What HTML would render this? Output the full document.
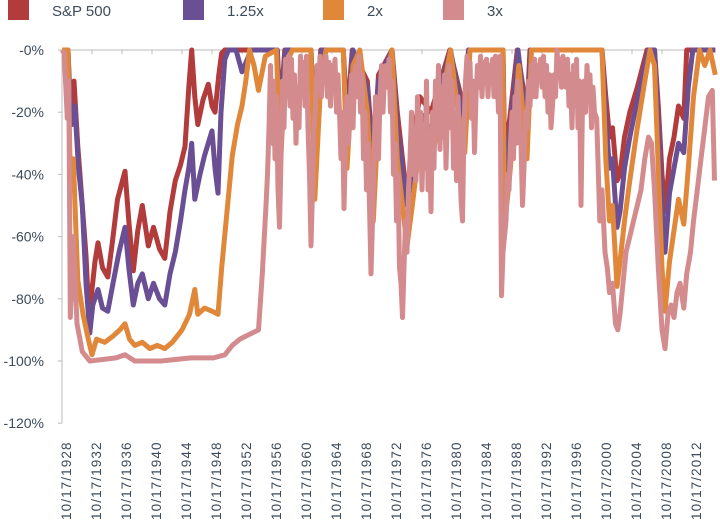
<!DOCTYPE html>
<html><head><meta charset="utf-8"><style>
body{margin:0;background:#fff;width:720px;height:524px;overflow:hidden;font-family:"Liberation Sans",sans-serif}
</style></head><body>
<svg id="c" width="720" height="524" xmlns="http://www.w3.org/2000/svg"></svg>
<script>
const legendLabels=["S&P 500","1.25x","2x","3x"];
const yTicks=[0,-20,-40,-60,-80,-100,-120];
const xTickYears=[1928,1932,1936,1940,1944,1948,1952,1956,1960,1964,1968,1972,1976,1980,1984,1988,1992,1996,2000,2004,2008,2012];
const spx=[[1928.8,0],[1929.6,0],[1929.8,-12],[1930.1,-18],[1930.4,-10],[1930.9,-31],[1931.5,-50],[1932,-66],[1932.4,-86],[1932.8,-77],[1933.2,-68],[1933.6,-62],[1934.2,-70],[1934.9,-73],[1935.5,-62],[1936.2,-48],[1937.2,-39],[1937.7,-55],[1938.3,-71],[1938.9,-58],[1939.5,-50],[1940.3,-63],[1941,-57],[1941.8,-64],[1942.5,-67],[1943.2,-52],[1943.9,-42],[1944.6,-37],[1945.2,-31],[1945.7,-12],[1946.1,0],[1946.5,-15],[1946.9,-24],[1947.6,-16],[1948.3,-11],[1948.8,-18],[1949.2,-20],[1949.7,-8],[1950.1,-1],[1950.5,0],[1957.5,0],[1957.9,-20],[1958.5,0],[1962,0],[1962.5,-28],[1963.3,0],[1966.3,0],[1966.8,-22],[1967.5,0],[1969.5,-10],[1970.3,-36],[1971,-8],[1972.8,0],[1973.5,-20],[1974.8,-48],[1975.5,-30],[1976.5,-15],[1978,-20],[1979,-12],[1980.5,0],[1981.5,-10],[1982.5,-20],[1983,0],[1987.6,0],[1987.8,-33],[1988.5,-22],[1989.5,0],[1990.8,-20],[1991.2,0],[2000.8,0],[2001.3,-15],[2001.8,-28],[2002.2,-25],[2002.8,-42],[2003.2,-40],[2003.8,-28],[2004.5,-20],[2005.5,-12],[2006.8,0],[2007.8,0],[2008.3,-18],[2008.8,-40],[2009.2,-52],[2009.8,-35],[2010.4,-28],[2011,-18],[2011.7,-22],[2012.1,0],[2015.9,0]];
const x125=[[1928.8,0],[1929.6,0],[1929.8,-14],[1930.1,-24],[1930.5,-18],[1931,-38],[1931.5,-50],[1932,-75],[1932.5,-91],[1932.9,-82],[1933.6,-77],[1934.2,-83],[1934.9,-84],[1935.6,-75],[1936.4,-65],[1937.2,-57],[1937.7,-70],[1938.3,-82],[1938.9,-75],[1939.5,-72],[1940.3,-80],[1941,-75],[1941.8,-80],[1942.5,-82],[1943.2,-72],[1943.9,-65],[1944.6,-55],[1945.2,-45],[1945.7,-38],[1946.1,-30],[1946.5,-48],[1947.2,-40],[1947.8,-34],[1948.8,-26],[1949.2,-38],[1949.6,-46],[1950,-20],[1950.5,-3],[1951,0],[1952,0],[1952.8,-7],[1953.5,-3],[1954,0],[1957.5,0],[1957.9,-25],[1958.6,0],[1962,0],[1962.5,-35],[1963.4,0],[1966.3,0],[1966.8,-28],[1967.6,0],[1969.5,-12],[1970.3,-44],[1971,-10],[1972.8,0],[1973.5,-25],[1974.8,-50],[1975.5,-38],[1976.5,-20],[1978,-26],[1979,-15],[1980.6,0],[1981.5,-12],[1982.5,-25],[1983,0],[1987.6,0],[1987.8,-40],[1988.5,-28],[1989.6,0],[1990.8,-25],[1991.3,0],[2000.8,0],[2001.3,-22],[2001.8,-38],[2002.2,-35],[2002.8,-57],[2003.2,-52],[2003.8,-38],[2004.5,-28],[2005.5,-16],[2007,0],[2007.8,0],[2008.3,-24],[2008.8,-50],[2009.2,-65],[2009.8,-46],[2010.4,-38],[2011,-30],[2011.7,-33],[2012.3,-12],[2012.9,0],[2015.9,0]];
const x2=[[1928.8,0],[1929.6,0],[1929.9,-42],[1930.3,-35],[1930.9,-74],[1931.6,-85],[1932.3,-93],[1932.8,-98],[1933.4,-93],[1934.5,-94],[1935.6,-92],[1936.5,-90],[1937.2,-88],[1937.8,-93],[1938.5,-95],[1939.5,-94],[1940.5,-96],[1941.5,-95],[1942.5,-96],[1943.5,-94],[1944.8,-90],[1945.8,-85],[1946.5,-77],[1946.9,-85],[1947.8,-83],[1948.8,-84],[1949.6,-85],[1950.1,-70],[1950.8,-52],[1951.5,-34],[1952.2,-24],[1952.8,-18],[1953.3,-10],[1953.8,0],[1954.4,-5],[1955,-13],[1955.9,-2],[1957.4,0],[1957.9,-38],[1958.6,-5],[1959.5,0],[1962,0],[1962.5,-48],[1963.3,-10],[1964,0],[1966.3,0],[1966.8,-38],[1967.6,-5],[1968.5,0],[1969.5,-20],[1970.3,-55],[1971,-20],[1972.8,0],[1973.5,-35],[1974.8,-63],[1975.5,-50],[1976.5,-30],[1978,-38],[1979,-22],[1980.6,0],[1981.5,-18],[1982.5,-33],[1983.2,0],[1987.6,0],[1987.8,-57],[1988.5,-40],[1989.7,-5],[1990.8,-35],[1991.4,0],[2000.8,0],[2001.3,-35],[2001.8,-55],[2002.2,-50],[2002.8,-76],[2003.2,-68],[2003.8,-55],[2004.5,-42],[2005.5,-25],[2006.5,-10],[2007.2,0],[2007.8,-5],[2008.3,-38],[2008.8,-70],[2009.2,-84],[2009.8,-68],[2010.4,-58],[2011,-48],[2011.7,-56],[2012.3,-38],[2013,-15],[2013.8,0],[2014.5,-5],[2015.2,0],[2015.9,-8]];
const x3Early=[[1928.8,0],[1929.1,-1],[1929.5,-22],[1929.7,-10],[1929.9,-86],[1930.3,-60],[1930.8,-88],[1931.5,-97],[1932.5,-100],[1936,-99],[1937.2,-98],[1938.5,-100],[1942,-100],[1946,-99],[1949,-99],[1950.5,-98],[1951.5,-95],[1952.5,-93],[1953.3,-92],[1955,-90],[1955.5,-72],[1956,-50],[1956.2,-40]];
const x3MidStart=1956.4;
const x3MidStep=0.2;
const x3MidValues=[-25,-5,-30,-10,-35,-15,-45,-57,
-35,-10,-25,-3,-15,-2,-18,-3,-22,-8,
-30,-12,-25,-2,-12,-4,-18,-2,-25,-40,
-63,-45,-25,-18,-5,-12,-2,-15,-4,-10,
-2,-15,-4,-18,-5,-12,-3,-20,-8,-20,
-35,-20,-51,-30,-15,-30,-20,-8,-25,-10,
-5,-15,-2,-20,-8,-35,-20,-45,-30,-50,
-72,-55,-35,-15,-25,-35,-15,-5,-20,-8,
-5,-12,-3,-20,-10,-40,-30,-55,-40,-70,
-75,-86,-70,-55,-65,-45,-35,-20,-40,-25,
-42,-15,-35,-20,-45,-25,-38,-10,-45,-30,
-52,-20,-38,-10,-22,-5,-32,-12,-28,-8,
-38,-18,-5,-25,-10,-38,-20,-42,-15,-30,
-48,-55,-25,-10,-2,-12,-4,-22,-10,-33,
-15,-5,-12,-2,-15,-4,-10,-3,-15,-5,
-10,-3,-15,-2,-8,-20,-2,-79,-65,-60,
-55,-40,-45,-30,-20,-35,-15,-30,-10,-25,
-30,-50,-38,-20,-25,-10,-18,-5,-15,-3,
-15,-5,-10,-3,-12,-2,-15,-5,-20,-8,
-25,-18,-8,-15,0,-8,-3,-12,-2,-8,
-12,-3,-18,-8,-25,-5,-15,-3,-25,-10,
-50,-17,-10,-20,-5,-15,-8,-25,-12,-20];
const x3Late=[[2000.1,-22],[2000.5,-55],[2000.8,-45],[2001.2,-65],[2001.5,-70],[2001.8,-78],[2002.2,-75],[2002.6,-88],[2002.9,-90],[2003.2,-85],[2003.6,-75],[2004,-65],[2004.5,-60],[2005,-55],[2005.5,-50],[2006,-45],[2006.5,-35],[2007,-28],[2007.4,-30],[2007.8,-45],[2008.3,-70],[2008.8,-90],[2009.2,-96],[2009.6,-85],[2010,-82],[2010.4,-86],[2010.8,-78],[2011.2,-75],[2011.7,-83],[2012.1,-72],[2012.6,-65],[2013,-55],[2013.5,-45],[2014,-35],[2014.5,-25],[2015,-15],[2015.5,-13],[2015.8,-42]];
const x3=x3Early.concat(x3MidValues.map((v,i)=>[x3MidStart+i*x3MidStep,v]),x3Late);

const NS="http://www.w3.org/2000/svg";
const svg=document.getElementById('c');
const X0=62,X1=715,Y0=50;
const xs=y=>X0+(y-1928.8)*7.5;
const ys=v=>Y0+(-v)*3.11;
function mk(tag,attrs,parent){const e=document.createElementNS(NS,tag);for(const k in attrs)e.setAttribute(k,attrs[k]);(parent||svg).appendChild(e);return e;}

const ax=mk('line',{x1:X0,y1:Y0,x2:X1,y2:Y0,stroke:'#bbb','stroke-width':1});


const ay=mk('line',{x1:X0,y1:Y0,x2:X0,y2:ys(-120),stroke:'#bbb','stroke-width':1});


yTicks.forEach(t=>{
  const tk=mk('line',{x1:X0-4,y1:ys(t),x2:X0,y2:ys(t),stroke:'#bbb'});
  
  
  const tx=mk('text',{x:44,y:ys(t)+5,'text-anchor':'end','font-size':14,fill:'#3d4b5a'});
  tx.textContent=(t===0?'-0':t)+'%';
  
  
});
xTickYears.forEach(yr=>{
  const x=xs(yr+0.8);
  const tk=mk('line',{x1:x,y1:Y0,x2:x,y2:Y0+4,stroke:'#bbb'});
  
  
  const tx=mk('text',{x:0,y:0,'font-size':13.5,'letter-spacing':'1.1',fill:'#3d4b5a',transform:`translate(${x+9},520) rotate(-90)`});
  tx.textContent='10/17/'+yr;
  
  
});

const series=[[spx,'#b23b3c',5,'sp500-line'],[x125,'#6b4f95',5,'leverage-125x-line'],[x2,'#e0873a',5,'leverage-2x-line'],[x3,'#d48b8d',5,'leverage-3x-line']];
series.forEach(([d,col,w,name])=>{
  const p=mk('polyline',{points:d.map(q=>xs(q[0]).toFixed(1)+','+ys(q[1]).toFixed(1)).join(' '),fill:'none',stroke:col,'stroke-width':w,'stroke-linejoin':'round'});
  
  
});

const legX=[8,183,323,443];
legendLabels.forEach((l,i)=>{
  const r=mk('rect',{x:legX[i],y:0,width:21,height:20,fill:series[i][1]});
  
  
  const t=mk('text',{x:legX[i]+44,y:16,'font-size':15,fill:'#3d4b5a'});
  t.textContent=l;
  
  
});
</script>
</body></html>
